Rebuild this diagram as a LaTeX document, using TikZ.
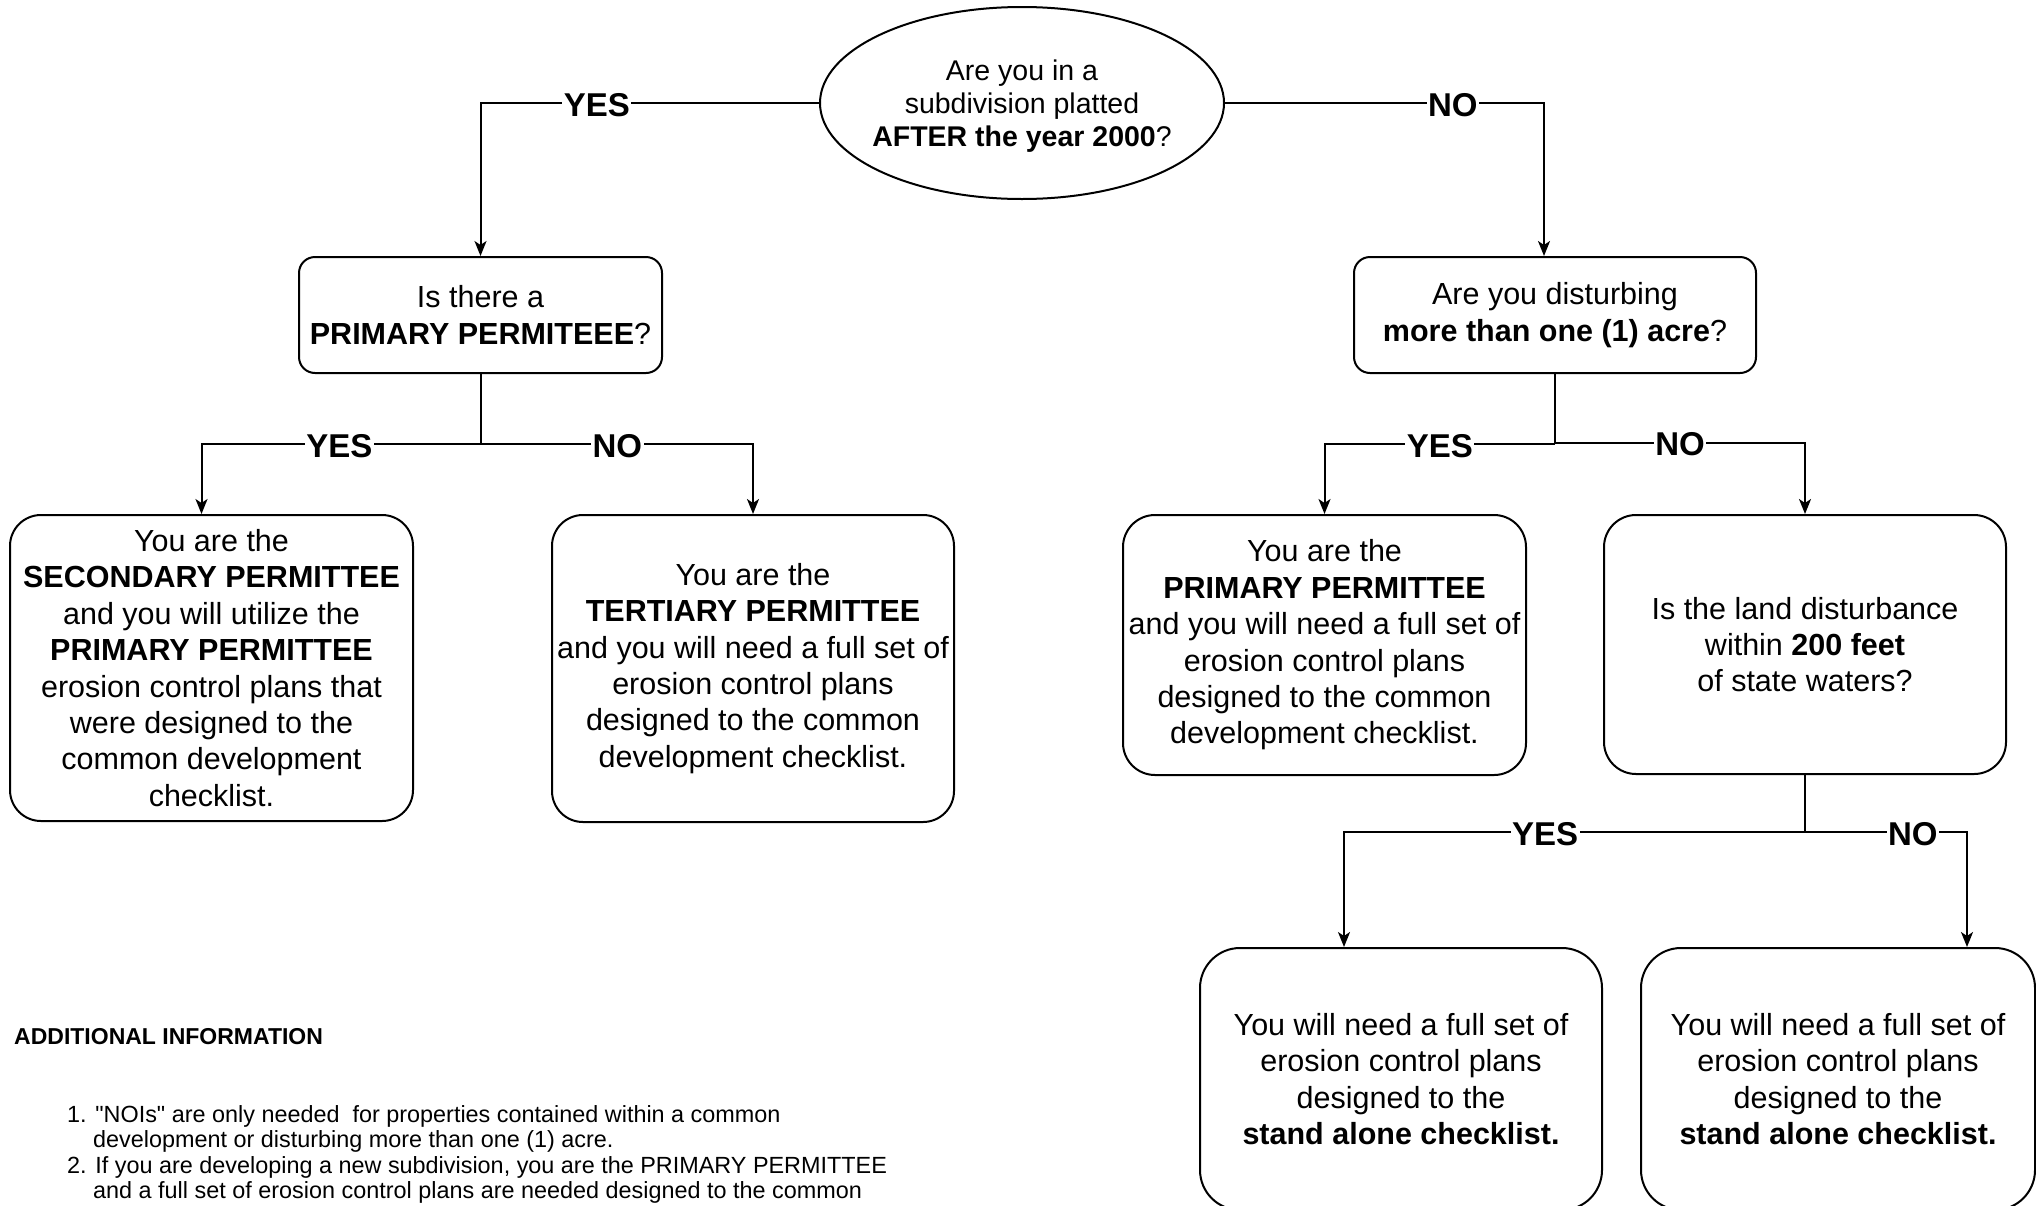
\documentclass[tikz,border=0pt]{standalone}
\usepackage{fontspec}
\setmainfont{Liberation Sans}
\newfontfamily\qfont{Liberation Sans}
\usetikzlibrary{shapes.geometric,arrows.meta}
\newcommand{\bxfont}{\fontsize{30.5}{36.4}\selectfont}
\newcommand{\elfont}{\fontsize{28.5}{33}\selectfont}
\newcommand{\sq}{{\qfont\symbol{34}}}
\begin{document}
\begin{tikzpicture}[x=1pt,y=-1pt,
  box/.style={draw, line width=2pt, rounded corners=#1, inner sep=0pt, align=center, font=\bxfont},
  conn/.style={draw, line width=2pt, -{Stealth[length=15pt,width=12pt,inset=4pt]}},
  plain/.style={draw, line width=2pt},
  lbl/.style={fill=white, inner sep=1.5pt, yshift=-2pt, font=\bfseries\fontsize{33}{39}\selectfont}]
\path[use as bounding box] (0,0) rectangle (2036,1205);
\clip (0,0) rectangle (2036,1205);
\fill[white] (0,0) rectangle (2036,1205);

% question ellipse
\node[draw, ellipse, line width=2pt, inner sep=0pt, minimum width=404pt, minimum height=192pt] (q) at (1022,103) {};
\node[align=center, inner sep=0pt, font=\elfont] (qt) at (1022,106)
  {Are you in a\\subdivision platted\\\textbf{AFTER the year 2000}?};

% boxes
\node[box=16pt, minimum width=363pt, minimum height=116pt] (a) at (480.5,315)
  {Is there a\\\textbf{PRIMARY PERMITEEE}?};
\node[box=16pt, minimum width=402pt, minimum height=116pt] (b) at (1555,315)
  {Are you disturbing\\\textbf{more than one (1) acre}?};
\node[box=31pt, minimum width=403pt, minimum height=306pt] (c) at (211.5,668)
  {You are the\\\textbf{SECONDARY PERMITTEE}\\and you will utilize the\\\textbf{PRIMARY PERMITTEE}\\erosion control plans that\\were designed to the\\common development\\checklist.};
\node[box=31pt, minimum width=402pt, minimum height=307pt] (d) at (753,668.5)
  {You are the\\\textbf{TERTIARY PERMITTEE}\\and you will need a full set of\\erosion control plans\\designed to the common\\development checklist.};
\node[box=32pt, minimum width=403pt, minimum height=260pt] (e) at (1324.5,645)
  {You are the\\\textbf{PRIMARY PERMITTEE}\\and you will need a full set of\\erosion control plans\\designed to the common\\development checklist.};
\node[box=32pt, minimum width=402pt, minimum height=259pt] (f) at (1805,644.5)
  {Is the land disturbance\\within \textbf{200 feet}\\of state waters?};
\node[box=40pt, minimum width=402pt, minimum height=262pt] (g) at (1401,1079)
  {You will need a full set of\\erosion control plans\\designed to the\\\textbf{stand alone checklist.}};
\node[box=40pt, minimum width=394pt, minimum height=262pt] (h) at (1838,1079)
  {You will need a full set of\\erosion control plans\\designed to the\\\textbf{stand alone checklist.}};

% junctions
\coordinate (j1) at (480.5,444);
\coordinate (j2) at (1555,444);
\coordinate (j2n) at (1555,442.5);
\coordinate (j3) at (1805,832);

% connectors
\draw[conn] (q.west) -| node[lbl,pos=0.328] (l1) {YES} (a.north);
\draw[conn] (q.east) -| node[lbl,pos=0.357] (l2) {NO} ([xshift=-11pt]b.north);

\draw[plain] (a.south) -- (j1);
\draw[conn] (j1) -| node[lbl,pos=0.253] (l3) {YES} ([xshift=-10pt]c.north);
\draw[conn] (j1) -| node[lbl,pos=0.251] (l4) {NO} (d.north);

\draw[plain] (b.south) -- (j2);
\draw[conn] (j2) -| node[lbl,pos=0.25] (l5) {YES} (e.north);
\draw[conn] (j2n) -| node[lbl,pos=0.25] (l6) {NO} (f.north);

\draw[plain] (f.south) -- (j3);
\draw[conn] (j3) -| node[lbl,pos=0.282] (l7) {YES} ([xshift=-57pt]g.north);
\draw[conn] (j3) -| node[lbl,pos=0.333] (l8) {NO} ([xshift=129pt]h.north);

% additional information
\node[anchor=base west, inner sep=0pt, font=\bfseries\fontsize{23}{26}\selectfont] (hdr) at (14,1044) {ADDITIONAL INFORMATION};
\node[anchor=north west, inner sep=0pt, align=left, font=\fontsize{23.4}{25.6}\selectfont] (notes) at (67,1105)
  {1. \sq NOIs\sq{} are only needed\ \ for properties contained within a common\\
   \hspace*{26pt}development or disturbing more than one (1) acre.\\
   2. If you are developing a new subdivision, you are the PRIMARY PERMITTEE\\
   \hspace*{26pt}and a full set of erosion control plans are needed designed to the common};
\end{tikzpicture}
\end{document}
